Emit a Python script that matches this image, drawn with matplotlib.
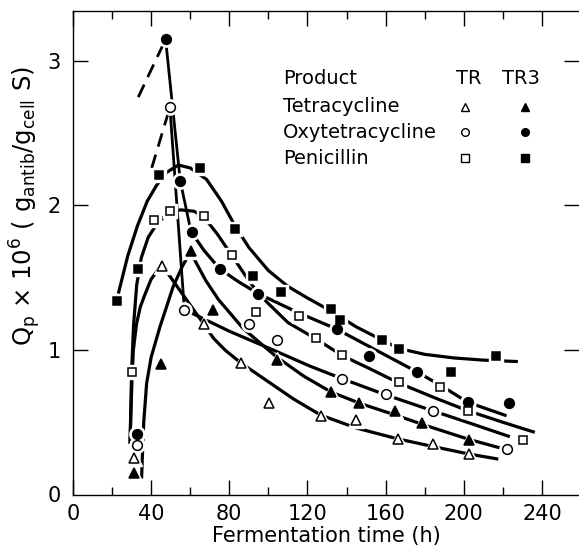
import matplotlib
matplotlib.use("Agg")
import matplotlib.pyplot as plt
from matplotlib.ticker import MultipleLocator

plt.rcParams['font.family'] = ['DejaVu Sans']
plt.rcParams['mathtext.fontset'] = 'dejavusans'

# measured points: fermentation time (h) and Qp x 10^6
tet_tr_t = [31.2, 45.4, 66.9, 86.0, 100.3, 126.7, 145.0, 166.2, 184.1, 202.7]
tet_tr_q = [0.255, 1.58, 1.18, 0.91, 0.63, 0.54, 0.515, 0.386, 0.347, 0.28]

tet_tr3_t = [31.4, 45.0, 60.4, 71.6, 104.4, 131.9, 146.5, 164.8, 178.6, 202.7]
tet_tr3_q = [0.147, 0.90, 1.685, 1.277, 0.93, 0.707, 0.635, 0.58, 0.497, 0.377]

oxy_tr_t = [32.6, 49.6, 57.0, 90.2, 104.2, 137.8, 160.2, 184.4, 221.9]
oxy_tr_q = [0.34, 2.68, 1.28, 1.18, 1.07, 0.797, 0.693, 0.576, 0.315]

oxy_tr3_t = [32.6, 47.4, 54.9, 60.7, 75.4, 94.7, 134.9, 151.7, 175.9, 202.1, 223.3]
oxy_tr3_q = [0.42, 3.15, 2.17, 1.82, 1.56, 1.39, 1.145, 0.96, 0.85, 0.638, 0.63]

pen_tr_t = [30.0, 41.3, 49.8, 67.0, 81.2, 93.8, 115.8, 124.2, 137.8, 167.0, 188.1, 202.1, 230.1]
pen_tr_q = [0.846, 1.90, 1.96, 1.93, 1.66, 1.26, 1.235, 1.085, 0.965, 0.776, 0.746, 0.578, 0.38]

pen_tr3_t = [22.4, 33.1, 43.8, 65.0, 82.7, 92.0, 106.3, 131.9, 136.6, 158.1, 166.8, 193.4, 216.5]
pen_tr3_q = [1.34, 1.56, 2.21, 2.26, 1.84, 1.51, 1.40, 1.286, 1.21, 1.07, 1.007, 0.85, 0.958]

# hand drawn trend curves
pen_tr3_fit_t = [23.2, 28, 33, 38, 42.8, 48, 54, 60, 68.4, 76, 82.9, 90, 100, 110, 120, 132, 145,
                 158, 167, 180, 195, 210, 227.7]
pen_tr3_fit_q = [1.39, 1.65, 1.86, 2.03, 2.14, 2.23, 2.28, 2.26, 2.18, 2.03, 1.86, 1.71, 1.55, 1.44,
                 1.36, 1.27, 1.16, 1.07, 1.01, 0.97, 0.945, 0.93, 0.92]

pen_tr_fit_t = [29.2, 29.6, 30.0, 31.0, 32.6, 35, 38.5, 42.8, 48, 55, 62, 67, 74, 81, 88, 94.8,
                110, 124, 138, 152, 167, 185, 202, 220, 236.4]
pen_tr_fit_q = [0.35, 0.6, 0.85, 1.17, 1.45, 1.64, 1.78, 1.87, 1.94, 1.97, 1.96, 1.92, 1.80, 1.66,
                1.52, 1.39, 1.19, 1.08, 0.96, 0.87, 0.77, 0.67, 0.58, 0.50, 0.43]

oxy_tr3_rise_t = [33.4, 47.4]
oxy_tr3_rise_q = [2.75, 3.15]
oxy_tr3_drop_t = [47.4, 54.9, 60.4]
oxy_tr3_drop_q = [3.15, 2.17, 1.82]
oxy_tr3_fit_t = [60.4, 67, 75.2, 85, 94.8, 115, 134.9, 155, 175.9, 190, 202.1, 221.9]
oxy_tr3_fit_q = [1.82, 1.69, 1.56, 1.47, 1.39, 1.26, 1.145, 1.0, 0.85, 0.74, 0.638, 0.545]

oxy_tr_rise_t = [40.3, 49.6]
oxy_tr_rise_q = [2.26, 2.68]
oxy_tr_drop_t = [49.6, 57.0]
oxy_tr_drop_q = [2.68, 1.28]
oxy_tr_fit_t = [57.0, 80, 102.5, 121, 138, 160, 184, 204, 223.6]
oxy_tr_fit_q = [1.28, 1.13, 1.0, 0.89, 0.80, 0.69, 0.58, 0.49, 0.40]

tet_tr3_fit_t = [35.1, 35.6, 36.2, 37.7, 40, 44.5, 51.3, 56, 60.4, 62.4, 68, 74.4, 87, 100, 104.4,
                 118, 132, 147, 165, 180, 203, 222]
tet_tr3_fit_q = [0.11, 0.30, 0.50, 0.77, 0.95, 1.16, 1.44, 1.58, 1.685, 1.62, 1.48, 1.35, 1.15, 1.0,
                 0.95, 0.82, 0.71, 0.63, 0.55, 0.48, 0.38, 0.31]

tet_tr_fit_t = [29.2, 29.6, 30.2, 30.9, 32.5, 34.5, 36.7, 40, 45.4, 66.9, 72, 77.8, 86, 100, 113,
                126.7, 145, 166.2, 185, 202.7, 217.7]
tet_tr_fit_q = [0.35, 0.55, 0.8, 1.0, 1.18, 1.30, 1.38, 1.49, 1.59, 1.18, 1.08, 1.0, 0.91, 0.78,
                0.66, 0.55, 0.46, 0.385, 0.33, 0.28, 0.245]

fig = plt.figure(figsize=(5.79, 5.48), dpi=100)
ax = fig.add_axes([73 / 579, 1 - 494.5 / 548, 506 / 579, 483.5 / 548])

lw = 2.3
for t, q in [(pen_tr3_fit_t, pen_tr3_fit_q), (pen_tr_fit_t, pen_tr_fit_q),
             (oxy_tr3_fit_t, oxy_tr3_fit_q), (oxy_tr_fit_t, oxy_tr_fit_q),
             (tet_tr3_fit_t, tet_tr3_fit_q), (tet_tr_fit_t, tet_tr_fit_q)]:
    ax.plot(t, q, color='black', lw=lw, solid_capstyle='butt', zorder=2)
ax.plot(oxy_tr3_drop_t, oxy_tr3_drop_q, color='black', lw=2.0, zorder=2)
ax.plot(oxy_tr_drop_t, oxy_tr_drop_q, color='black', lw=2.0, zorder=2)
ax.plot(oxy_tr3_rise_t, oxy_tr3_rise_q, color='black', lw=2.0, dashes=(5, 3), zorder=2)
ax.plot(oxy_tr_rise_t, oxy_tr_rise_q, color='black', lw=2.0, dashes=(5, 3), zorder=2)

series = [
    (tet_tr_t, tet_tr_q, '^', 'white', 7),
    (tet_tr3_t, tet_tr3_q, '^', 'black', 7),
    (oxy_tr_t, oxy_tr_q, 'o', 'white', 7),
    (oxy_tr3_t, oxy_tr3_q, 'o', 'black', 7),
    (pen_tr_t, pen_tr_q, 's', 'white', 6),
    (pen_tr3_t, pen_tr3_q, 's', 'black', 6),
]
for t, q, m, fc, ms in series:
    # white halo, breaks the curves round the symbols
    ax.plot(t, q, ls='none', marker=m, ms=ms + 4, mfc='white', mec='white', zorder=3)
    ax.plot(t, q, ls='none', marker=m, ms=ms, mfc=fc, mec='black', mew=1.1, zorder=4)

ax.set_xlim(0, 259)
ax.set_ylim(0, 3.346)
ax.xaxis.set_major_locator(MultipleLocator(40))
ax.xaxis.set_minor_locator(MultipleLocator(20))
ax.set_yticks([0, 1, 2, 3])
ax.tick_params(which='both', direction='in', top=True, right=True, width=1, labelsize=15)
ax.tick_params(which='major', length=11)
ax.tick_params(which='minor', length=6)
ax.tick_params(axis='x', pad=7)
ax.tick_params(axis='y', pad=9)
for s in ax.spines.values():
    s.set_linewidth(1)
ax.spines['right'].set_visible(False)
# the left 0 tick is not drawn
ax.yaxis.get_major_ticks()[0].tick1line.set_visible(False)
ax.yaxis.get_major_ticks()[0].tick2line.set_visible(False)

ax.set_xlabel('Fermentation time (h)', fontsize=15, labelpad=1)
fig.text(25 / 579, 1 - 206 / 548,
         r'Q$_\mathrm{p}$ $\times$ 10$^6$ ( g$_\mathrm{antib}$/g$_\mathrm{cell}$ S)',
         rotation=90, ha='center', va='center', fontsize=17.5)

# key in the upper right
def ax_xy(px, py):
    return (px - 73) / 506, (494.5 - py) / 483.5

tk = dict(transform=ax.transAxes, fontsize=14, va='center')
ax.text(*ax_xy(283, 78), 'Product', ha='left', **tk)
ax.text(*ax_xy(469, 78), 'TR', ha='center', **tk)
ax.text(*ax_xy(521, 78), 'TR3', ha='center', **tk)
rows = [('Tetracycline', '^', 107), ('Oxytetracycline', 'o', 132), ('Penicillin', 's', 158)]
for name, m, py in rows:
    ax.text(*ax_xy(283, py), name, ha='left', **tk)
    ax.plot(*ax_xy(465, py), marker=m, ms=5.5, mfc='white', mec='black', mew=1,
            transform=ax.transAxes, clip_on=False)
    ax.plot(*ax_xy(525, py), marker=m, ms=5.5, mfc='black', mec='black', mew=1,
            transform=ax.transAxes, clip_on=False)

fig.savefig('out.png', dpi=100)
